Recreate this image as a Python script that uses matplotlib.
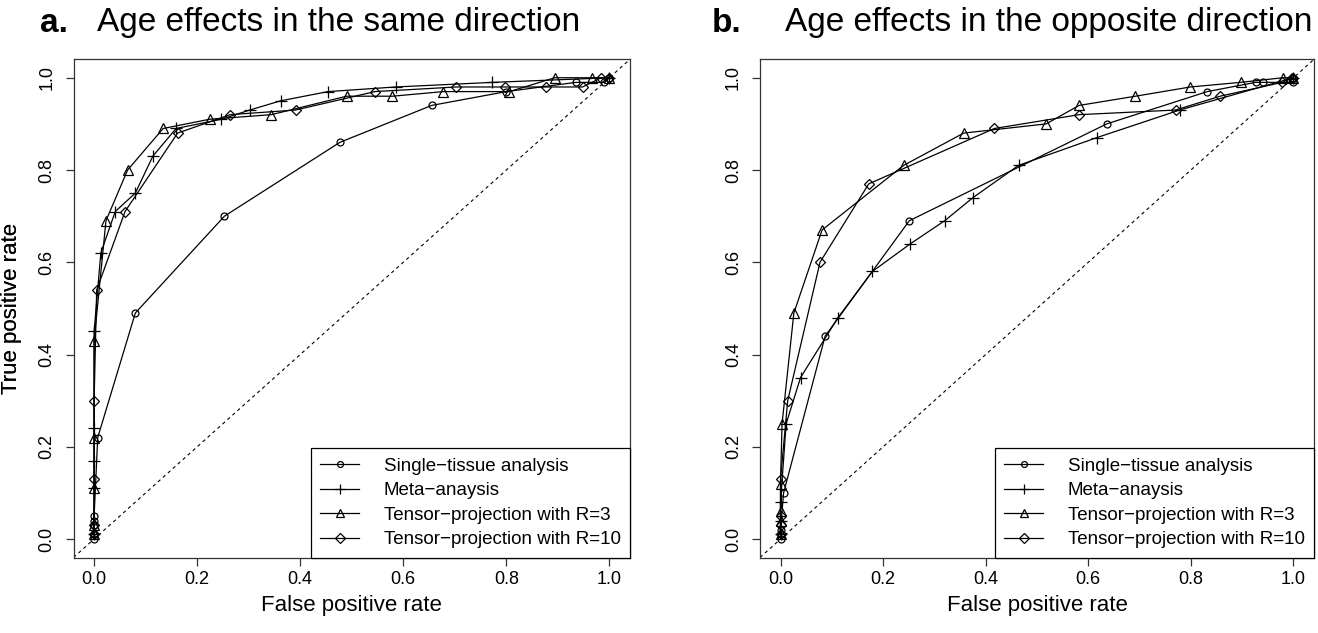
import numpy as np
import matplotlib.pyplot as plt

plt.rcParams['font.family'] = ['Liberation Sans', 'DejaVu Sans']

# Panel a: age effects in the same direction
single_a_fpr = [0, 0, 0, 0, 0, 0.007, 0.08, 0.253, 0.477, 0.655, 0.80, 0.935, 0.99, 1.0]
single_a_tpr = [0, 0.01, 0.03, 0.04, 0.05, 0.22, 0.49, 0.70, 0.86, 0.94, 0.97, 0.99, 0.99, 1.0]
meta_a_fpr = [0, 0, 0, 0, 0, 0.013, 0.041, 0.08, 0.114, 0.159, 0.247, 0.302, 0.362, 0.454, 0.585, 0.773, 1.0]
meta_a_tpr = [0.01, 0.11, 0.17, 0.24, 0.45, 0.62, 0.71, 0.75, 0.83, 0.89, 0.91, 0.93, 0.95, 0.97, 0.98, 0.99, 1.0]
r3_a_fpr = [0, 0, 0, 0, 0, 0.023, 0.065, 0.134, 0.224, 0.344, 0.49, 0.579, 0.678, 0.806, 0.894, 0.966, 1.0]
r3_a_tpr = [0.01, 0.03, 0.11, 0.22, 0.43, 0.69, 0.80, 0.89, 0.91, 0.92, 0.96, 0.96, 0.97, 0.97, 1.0, 1.0, 1.0]
r10_a_fpr = [0, 0, 0, 0, 0.005, 0.06, 0.162, 0.264, 0.391, 0.545, 0.703, 0.798, 0.877, 0.948, 0.984, 1.0]
r10_a_tpr = [0.01, 0.03, 0.13, 0.30, 0.54, 0.71, 0.88, 0.92, 0.93, 0.97, 0.98, 0.98, 0.98, 0.98, 1.0, 1.0]

# Panel b: age effects in the opposite direction
single_b_fpr = [0, 0, 0, 0.006, 0.087, 0.251, 0.636, 0.832, 0.926, 0.94, 1.0, 1.0]
single_b_tpr = [0, 0.01, 0.02, 0.10, 0.44, 0.69, 0.90, 0.97, 0.99, 0.99, 0.99, 1.0]
meta_b_fpr = [0, 0, 0, 0.011, 0.039, 0.112, 0.179, 0.253, 0.32, 0.375, 0.464, 0.616, 0.778, 1.0]
meta_b_tpr = [0.01, 0.04, 0.08, 0.25, 0.35, 0.48, 0.58, 0.64, 0.69, 0.74, 0.81, 0.87, 0.93, 1.0]
r3_b_fpr = [0, 0, 0, 0, 0.003, 0.026, 0.081, 0.24, 0.357, 0.518, 0.582, 0.692, 0.799, 0.897, 0.979, 1.0]
r3_b_tpr = [0.01, 0.04, 0.06, 0.12, 0.25, 0.49, 0.67, 0.81, 0.88, 0.90, 0.94, 0.96, 0.98, 0.99, 1.0, 1.0]
r10_b_fpr = [0, 0, 0, 0, 0.014, 0.077, 0.172, 0.417, 0.582, 0.77, 0.857, 0.978, 0.997, 1.0]
r10_b_tpr = [0.01, 0.03, 0.05, 0.13, 0.30, 0.60, 0.77, 0.89, 0.92, 0.93, 0.96, 0.99, 1.0, 1.0]

labels = ['Single\u2212tissue analysis', 'Meta\u2212anaysis',
          'Tensor\u2212projection with R=3', 'Tensor\u2212projection with R=10']
markers = ['o', '+', '^', 'D']
msizes = [5, 8, 7.5, 5.5]
ticks = [0.0, 0.2, 0.4, 0.6, 0.8, 1.0]

W, H = 1318, 633
fig = plt.figure(figsize=(W / 100, H / 100), dpi=100)

panels = [
    ('a.', 'Age effects in the same direction', [73.5, 630], 40, 97,
     [(single_a_fpr, single_a_tpr), (meta_a_fpr, meta_a_tpr),
      (r3_a_fpr, r3_a_tpr), (r10_a_fpr, r10_a_tpr)]),
    ('b.', 'Age effects in the opposite direction', [760, 1314], 712, 785,
     [(single_b_fpr, single_b_tpr), (meta_b_fpr, meta_b_tpr),
      (r3_b_fpr, r3_b_tpr), (r10_b_fpr, r10_b_tpr)]),
]

top_px, bot_px = 59.3, 557.5
for letter, title, (x0, x1), letter_x, title_x, series in panels:
    ax = fig.add_axes([x0 / W, 1 - bot_px / H, (x1 - x0) / W, (bot_px - top_px) / H])
    ax.axline((0, 0), slope=1, color='black', lw=0.8, linestyle=(0, (3, 3)))
    for (fx, ty), lab, mk, ms in zip(series, labels, markers, msizes):
        ax.plot(fx, ty, color='black', lw=0.9, marker=mk, markersize=ms,
                markerfacecolor='none', markeredgecolor='black',
                markeredgewidth=0.9, label=lab)
    ax.set_xlim(-0.04, 1.04)
    ax.set_ylim(-0.04, 1.04)
    ax.set_xticks(ticks)
    ax.set_yticks(ticks)
    ax.set_xticklabels([f'{t:.1f}' for t in ticks])
    ax.set_yticklabels([f'{t:.1f}' for t in ticks], rotation=90, va='center')
    ax.tick_params(length=6, width=0.9, labelsize=13, color='#333333')
    ax.tick_params(axis='x', pad=4)
    ax.tick_params(axis='y', pad=7)
    for sp in ax.spines.values():
        sp.set_linewidth(0.9)
        sp.set_color('#333333')
    ax.set_xlabel('False positive rate', fontsize=16, va='center')
    ax.xaxis.set_label_coords(0.5, -(606 - bot_px) / (bot_px - top_px))
    ax.set_ylabel('True positive rate', fontsize=16, va='center')
    ax.yaxis.set_label_coords(-(x0 - 12) / (x1 - x0), 0.5)

    leg = ax.legend(loc='lower right', borderaxespad=0, fontsize=13.5,
                    fancybox=False, edgecolor='black', framealpha=1,
                    handlelength=2.1, handletextpad=1.3, labelspacing=0.39,
                    borderpad=0.5, markerscale=0.85)
    leg.get_frame().set_linewidth(0.9)

    fig.text(letter_x / W, 1 - 23 / H, letter, fontsize=24, fontweight='bold',
             ha='left', va='center')
    fig.text(title_x / W, 1 - 23 / H, title, fontsize=24, ha='left', va='center')

fig.savefig('out.png', dpi=100)
